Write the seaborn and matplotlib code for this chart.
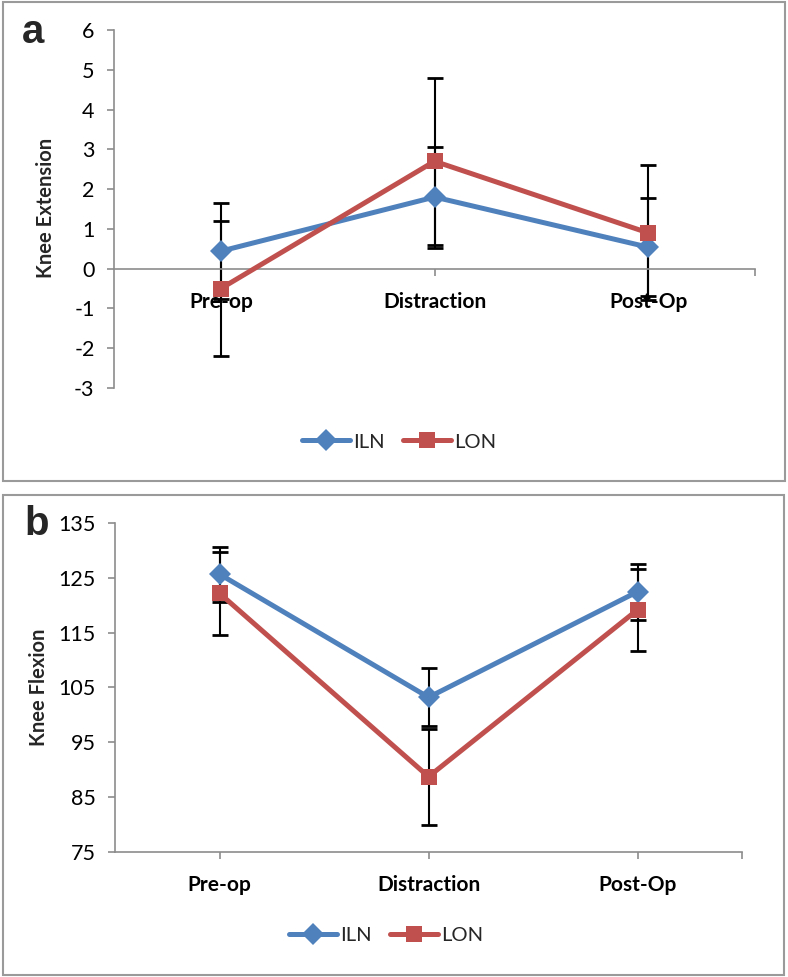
import matplotlib
matplotlib.use("Agg")
import matplotlib.pyplot as plt
from matplotlib.patches import Rectangle
from matplotlib.lines import Line2D
import numpy as np
import pandas as pd
import seaborn as sns

# data
stages = ["Pre-op", "Distraction", "Post-Op"]
groups = ["ILN", "LON"]

ext_iln = [0.44, 1.80, 0.54]
ext_iln_err = [1.20, 1.27, 1.23]
ext_lon = [-0.50, 2.70, 0.90]
ext_lon_err = [1.70, 2.10, 1.70]

flex_iln = [125.7, 103.2, 122.5]
flex_iln_err = [5.0, 5.3, 5.1]
flex_lon = [122.2, 88.7, 119.2]
flex_lon_err = [7.6, 8.8, 7.5]

colors = {"ILN": "#4F81BD", "LON": "#C0504D"}
markers = {"ILN": "D", "LON": "s"}
msize = {"ILN": 11, "LON": 12}

sns.set_theme(style="white")
plt.rcParams["font.family"] = ["Lato", "DejaVu Sans"]


def long_df(iln, lon):
    df = pd.DataFrame({
        "stage": stages * 2,
        "value": list(iln) + list(lon),
        "group": ["ILN"] * 3 + ["LON"] * 3,
    })
    df["stage"] = pd.Categorical(df["stage"], categories=stages, ordered=True)
    return df


def draw_panel(ax, iln, iln_err, lon, lon_err, ylim, yticks, ylabel, zero_axis):
    x = np.arange(len(stages))
    # error bars behind the series
    for vals, errs in [(iln, iln_err), (lon, lon_err)]:
        ax.errorbar(x, vals, yerr=errs, fmt="none", ecolor="black",
                    elinewidth=1.5, capsize=5.5, capthick=2.0, zorder=1)
    df = long_df(iln, lon)
    df["pos"] = df["stage"].cat.codes
    sns.lineplot(data=df, x="pos", y="value", hue="group", style="group",
                 palette=colors, markers=markers, dashes=False,
                 linewidth=3.6, markersize=msize["ILN"], markeredgewidth=0,
                 legend=False, ax=ax, zorder=3)
    for line in ax.lines:
        if line.get_marker() == "s":
            line.set_markersize(msize["LON"])

    for s in ["top", "right"]:
        ax.spines[s].set_visible(False)
    for s in ["left", "bottom"]:
        ax.spines[s].set_color("#8c8c8c")
        ax.spines[s].set_linewidth(1.2)
    if zero_axis:
        # moving the spine resets ticks, so do it first
        ax.spines["bottom"].set_position(("data", 0))

    ax.set_xlim(-0.5, 2.5)
    ax.set_ylim(*ylim)
    ax.set_yticks(yticks)
    ax.set_yticklabels([str(t) for t in yticks], fontsize=15.5)
    ax.set_xticks(x)
    ax.set_xticks([2.5], minor=True)
    ax.set_xticklabels(stages, fontsize=15, fontweight="bold")
    ax.set_xlabel("")
    ax.set_ylabel(ylabel, fontsize=14.5, fontweight="bold")

    ax.tick_params(axis="y", which="major", left=True, length=5, width=1.2,
                   color="#8c8c8c", pad=9, labelcolor="black")
    ax.tick_params(axis="x", which="both", bottom=True, length=5, width=1.2,
                   color="#8c8c8c", pad=12, labelcolor="black")
    ax.grid(False)


fig = plt.figure(figsize=(7.88, 9.77), dpi=100)

# panel frames
fig.patches.append(Rectangle((3 / 788, 1 - 481 / 977), 782 / 788, 479 / 977,
                             transform=fig.transFigure, fill=False,
                             ec="#9a9a9a", lw=1.5))
fig.patches.append(Rectangle((3 / 788, 1 - 975 / 977), 781 / 788, 480 / 977,
                             transform=fig.transFigure, fill=False,
                             ec="#9a9a9a", lw=1.5))

ax1 = fig.add_axes([0.1447, 0.6029, 0.8135, 0.3664])
draw_panel(ax1, ext_iln, ext_iln_err, ext_lon, ext_lon_err,
           (-3, 6), list(range(-3, 7)), "Knee Extension", True)
ax1.yaxis.set_label_coords(-0.09, 0.503)

ax2 = fig.add_axes([0.146, 0.1283, 0.7957, 0.3361])
draw_panel(ax2, flex_iln, flex_iln_err, flex_lon, flex_lon_err,
           (75, 135), list(range(75, 136, 10)), "Knee Flexion", False)
ax2.yaxis.set_label_coords(-0.105, 0.50)

# legends
handles = [Line2D([0], [0], color=colors[g], marker=markers[g], lw=3.6,
                  markersize=msize[g], markeredgewidth=0)
           for g in groups]
for cx, cy in [(399, 442), (386, 935)]:
    fig.legend(handles, groups, loc="center",
               bbox_to_anchor=(cx / 788, 1 - cy / 977), ncol=2, frameon=False,
               fontsize=14.5, handlelength=2.4, handletextpad=0.15,
               columnspacing=0.9)

fig.text(22 / 788, 1 - 32 / 977, "a", fontsize=29, fontweight="bold",
         family="Liberation Sans", va="center", ha="left")
fig.text(24 / 788, 1 - 524 / 977, "b", fontsize=29, fontweight="bold",
         family="Liberation Sans", va="center", ha="left")

fig.savefig("out.png", dpi=100)
